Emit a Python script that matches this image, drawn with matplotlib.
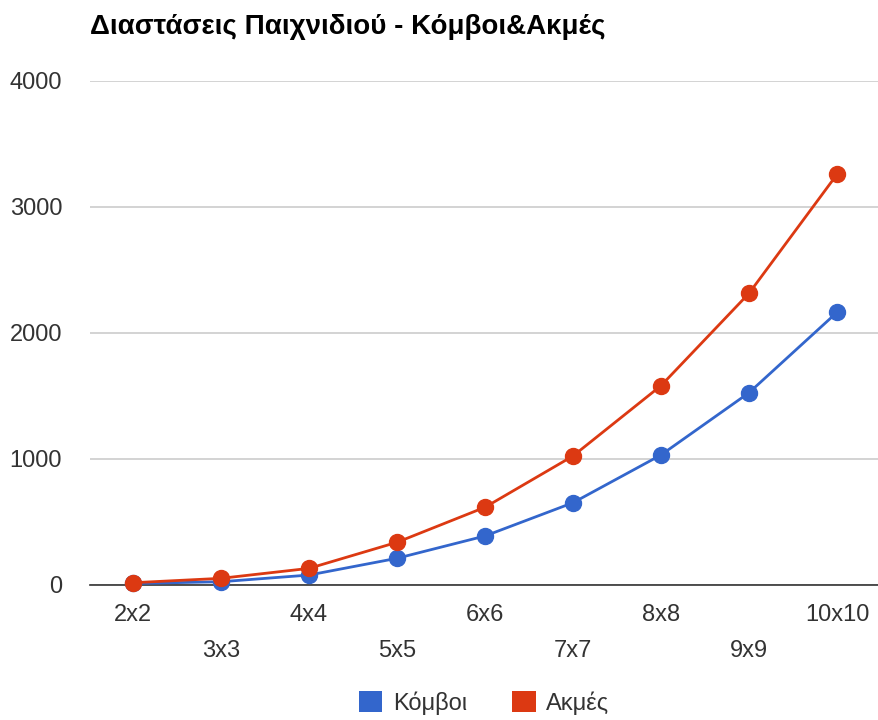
import matplotlib
matplotlib.use("Agg")
import matplotlib.pyplot as plt
from matplotlib.patches import Patch

# Game board sizes and counts of nodes / edges
sizes = ["2x2", "3x3", "4x4", "5x5", "6x6", "7x7", "8x8", "9x9", "10x10"]
nodes = [8, 22, 75, 208, 385, 649, 1028, 1522, 2160]
edges = [14, 49, 128, 335, 613, 1020, 1578, 2311, 3255]
y_ticks = [0, 1000, 2000, 3000, 4000]

title = "Διαστάσεις Παιχνιδιού - Κόμβοι&Ακμές"
label_nodes = "Κόμβοι"
label_edges = "Ακμές"

BLUE = "#3366CC"
RED = "#DC3912"

plt.rcParams["font.family"] = ["Liberation Sans", "DejaVu Sans"]

W, H = 879, 720
fig = plt.figure(figsize=(W / 100, H / 100), dpi=100)

# plot area in pixels: x 90..880, y 80.5..584.5 (from top)
left, right = 90, 880
top, bottom = 80.5, 584.5
ax = fig.add_axes([left / W, 1 - bottom / H, (right - left) / W, (bottom - top) / H])

x = list(range(len(sizes)))
ax.plot(x, nodes, color=BLUE, lw=2.0, marker="o", ms=11.5, zorder=3,
        solid_joinstyle="round", clip_on=False)
ax.plot(x, edges, color=RED, lw=2.0, marker="o", ms=11.5, zorder=4,
        solid_joinstyle="round", clip_on=False)

ax.set_ylim(0, 4000)
ax.set_xlim((left - 133) / 88, (right - 133) / 88)

ax.set_yticks(y_ticks)
ax.set_yticklabels([str(v) for v in y_ticks])
ax.grid(axis="y", color="#cccccc", lw=1.2, zorder=0)
ax.set_axisbelow(True)

for s in ["top", "right", "left"]:
    ax.spines[s].set_visible(False)
ax.spines["bottom"].set_color("#333333")
ax.spines["bottom"].set_linewidth(1.2)
ax.spines["bottom"].set_zorder(2)

ax.set_xticks(x)
ax.set_xticklabels(sizes)
ax.tick_params(axis="both", length=0, labelsize=17, labelcolor="#333333")
ax.tick_params(axis="y", pad=20)
for i, t in enumerate(ax.xaxis.get_major_ticks()):
    t.set_pad(14 if i % 2 == 0 else 40)

fig.text(left / W, 1 - 27 / H, title, fontsize=20, fontweight="bold",
         color="#000000", ha="left", va="center")

handles = [Patch(facecolor=BLUE, edgecolor="none", label=label_nodes),
           Patch(facecolor=RED, edgecolor="none", label=label_edges)]
fig.legend(handles=handles, loc="center", bbox_to_anchor=(484 / W, 1 - 703 / H),
           ncol=2, frameon=False, fontsize=17, handlelength=1.0, handleheight=1.0,
           handletextpad=0.45, columnspacing=1.9, labelcolor="#333333")

fig.savefig("out.png", dpi=100, facecolor="white")
